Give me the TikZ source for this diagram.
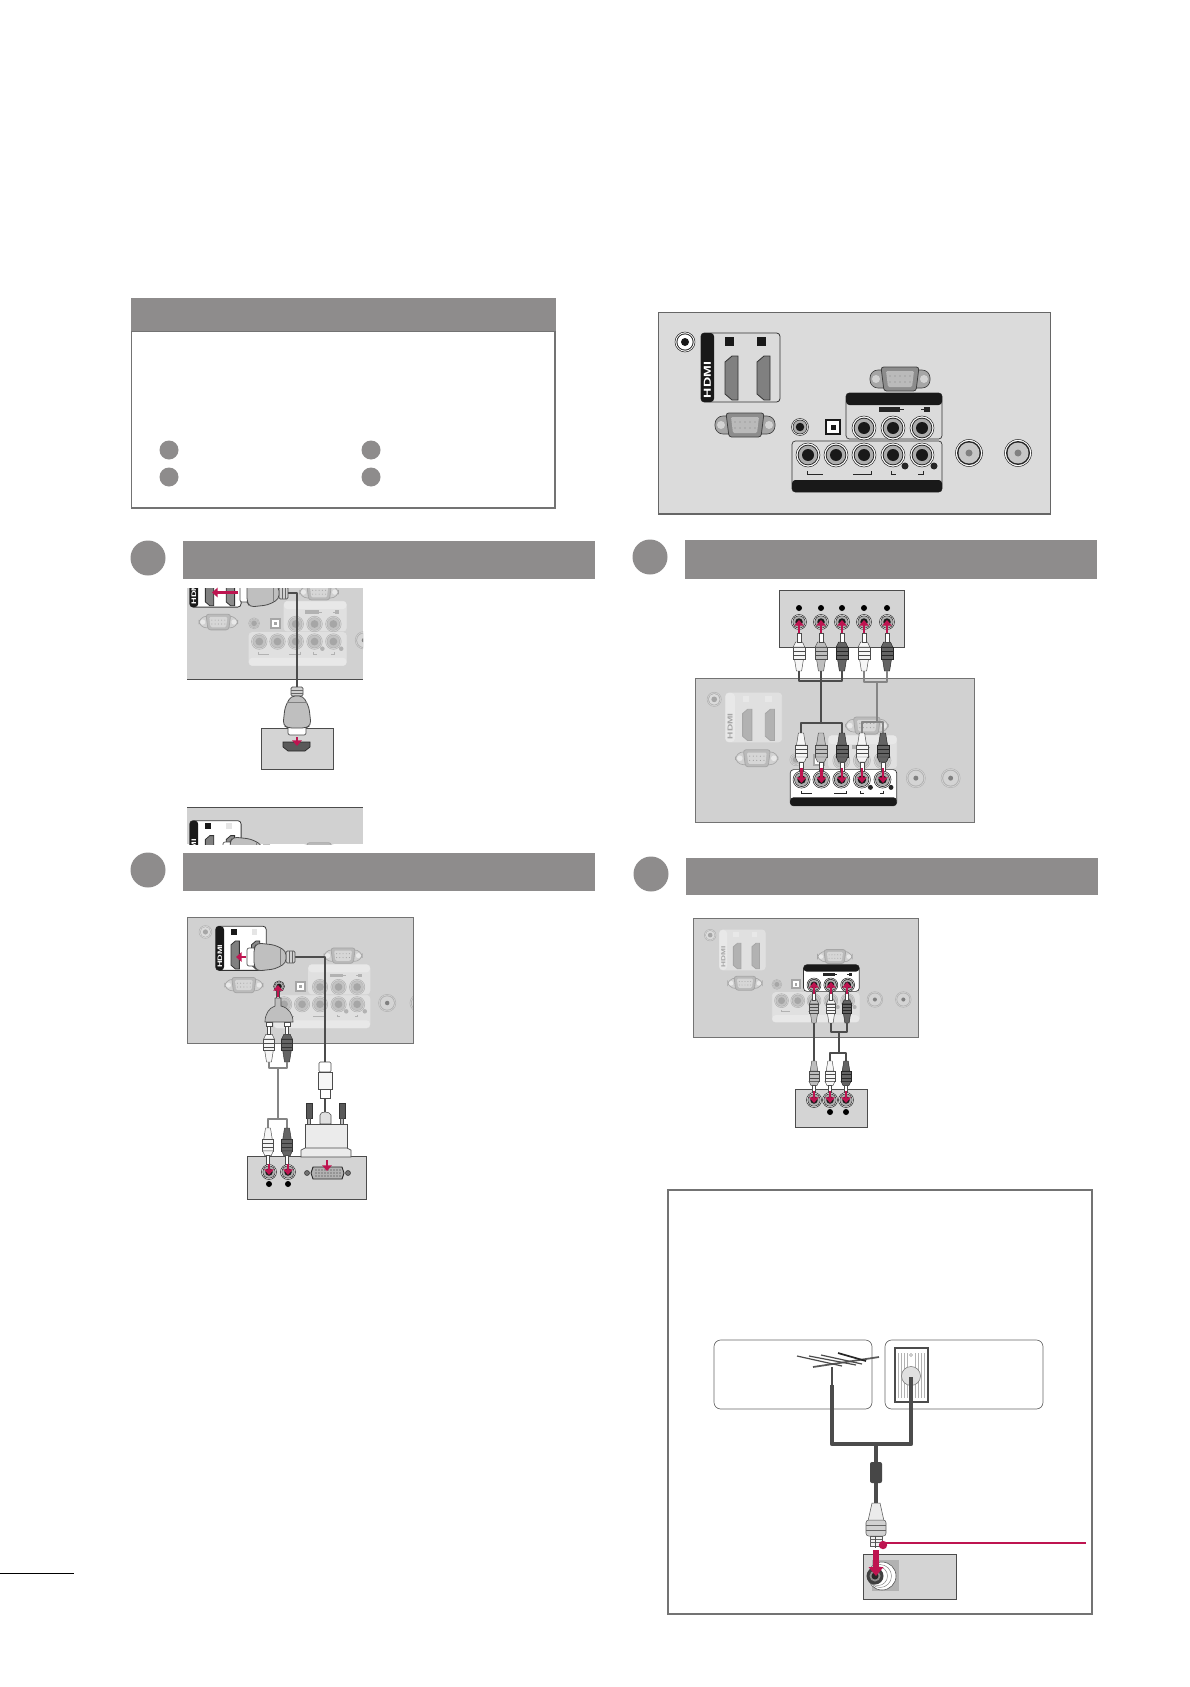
\documentclass[tikz,border=0pt]{standalone}
\usepackage{fontspec}
\setsansfont{Liberation Sans}
\usetikzlibrary{arrows.meta}
\definecolor{hdr}{HTML}{8E8C8C}
\definecolor{crim}{HTML}{BE1450}
\definecolor{rw}{HTML}{F6F6F6}
\definecolor{rg}{HTML}{BEBEBE}
\definecolor{rd}{HTML}{646464}
\tikzset{
 x=0.75pt,y=-0.75pt,
 redarr/.style={draw=crim,line width=2pt,-{Triangle[length=4.2pt,width=7pt]}},
 cabd/.style={draw=black!70,line width=1.9pt,line join=round},
 cabg/.style={draw=black!48,line width=1.9pt,line join=round},
 hbar/.style={fill=hdr},
}
% colour sets for the TV panel
\newcommand\fadedset{%
 \colorlet{jkRing}{black!14}\colorlet{jkLine}{black!30}\colorlet{jkMid}{black!24}\colorlet{jkCore}{black!35}%
 \colorlet{boxF}{black!12}\colorlet{boxL}{black!12}\colorlet{barC}{black!9}\colorlet{barT}{black!35}%
 \colorlet{prt}{black!30}\colorlet{prtL}{black!35}\colorlet{sqC}{black!9}%
 \colorlet{dsF}{black!27}\colorlet{dsE}{black!18}\colorlet{dsL}{black!35}\colorlet{labC}{black!30}%
}
\newcommand\strongset{%
 \colorlet{jkRing}{white}\colorlet{jkLine}{black!85}\colorlet{jkMid}{black!32}\colorlet{jkCore}{black!90}%
 \colorlet{boxF}{black!14}\colorlet{boxL}{black!80}\colorlet{barC}{black!90}\colorlet{barT}{white}%
 \colorlet{prt}{black!50}\colorlet{prtL}{black!80}\colorlet{sqC}{black!90}%
 \colorlet{dsF}{black!45}\colorlet{dsE}{black!35}\colorlet{dsL}{black!75}\colorlet{labC}{black!85}%
}
\newcommand\jk[3]{%
 \filldraw[fill=jkRing,draw=jkLine,line width=.4pt] (#1,#2) circle[radius=#3];
 \fill[jkLine] (#1,#2) circle[radius=.86*#3];
 \fill[jkMid] (#1,#2) circle[radius=.78*#3];
 \fill[jkCore] (#1,#2) circle[radius=.5*#3];
}
\newcommand\rfjk[2]{%
 \filldraw[fill=jkRing,draw=jkLine,line width=.4pt] (#1,#2) circle[radius=13.5];
 \fill[jkLine] (#1,#2) circle[radius=12];
 \fill[jkMid!70!white] (#1,#2) circle[radius=10.5];
 \fill[black!50] (#1,#2) circle[radius=3.5];
}
\newcommand\dsub[4]{% cx cy halfwidth halfheight
 \filldraw[fill=dsE,draw=dsL,line width=.5pt,rounded corners=6] (#1-#3,#2-#4+3) rectangle (#1+#3,#2+#4-3);
 \fill[dsE!50!white] (#1-#3+6,#2) circle[radius=4];
 \fill[dsE!50!white] (#1+#3-6,#2) circle[radius=4];
 \filldraw[fill=dsF,draw=dsL,line width=.6pt,rounded corners=2] (#1-#3+11,#2-#4) -- (#1+#3-11,#2-#4) -- (#1+#3-14,#2+#4) -- (#1-#3+14,#2+#4) -- cycle;
 \filldraw[fill=dsF!60!white,draw=none,rounded corners=1] (#1-#3+16,#2-#4+4) -- (#1+#3-16,#2-#4+4) -- (#1+#3-18,#2+#4-4) -- (#1-#3+18,#2+#4-4) -- cycle;
 \foreach \u in {-2,-1,0,1,2}{\fill[black!70,opacity=.5] (#1+\u*5,#2-3) circle[radius=.7];\fill[black!70,opacity=.5] (#1+\u*5,#2+3) circle[radius=.7];}
}
\newcommand\hport[1]{% x offset
 \filldraw[fill=prt,draw=prtL,line width=.6pt] (#1,362) -- (#1+7,356) -- (#1+13,356) -- (#1+13,400) -- (#1+7,400) -- (#1,394) -- cycle;
}
\newcommand\pJack{\filldraw[fill=jkRing,draw=jkLine,line width=.4pt] (685,342) circle[radius=10];
 \fill[jkLine] (685,342) circle[radius=8.6]; \fill[jkRing] (685,342) circle[radius=7.6]; \fill[jkCore] (685,342) circle[radius=4];}
\newcommand\pBoxHdmi{%
 \filldraw[fill=boxF,draw=boxL,line width=.6pt,rounded corners=2.5] (701,333) rectangle (780,402);
 \fill[barC,rounded corners=2.5] (701,333) -- (714,333) -- (714,402) -- (701,402) -- cycle;
 \node[rotate=90,transform shape,text=barT,inner sep=0pt,font=\sffamily\bfseries\fontsize{7.6}{7.6}\selectfont] at (707.5,380) {\scalebox{1.4}[1]{HDMI}};
}
\newcommand\pSq[1]{\fill[sqC] (#1-4.5,337) rectangle (#1+4.5,346);}
\newcommand\pHdmi{\pBoxHdmi\pSq{729.5}\pSq{761.5}\hport{725}\hport{757}}
\newcommand\pAudio{\jk{800}{427}{8.5}}
\newcommand\pOpt{\filldraw[fill=white,draw=jkCore,line width=1.5pt] (826,420) rectangle (840,434); \fill[jkCore] (830.5,424.5) rectangle (835.5,429.5);}
\newcommand\pUpper{%
 \filldraw[fill=boxF,draw=boxL,line width=.5pt,rounded corners=2.5] (846,393) rectangle (942,439);
 \fill[barC,rounded corners=2.5] (846,393) -- (942,393) -- (942,405) -- (846,405) -- cycle;
 \fill[labC] (879,407) rectangle (900,412); \fill[labC] (900,409) rectangle (904,410);
 \fill[labC] (924,407) rectangle (930,412); \fill[labC] (921,409) rectangle (924,410);
 \jk{864}{428}{12}\jk{893}{428}{12}\jk{922}{428}{12}
}
\newcommand\pLower{%
 \filldraw[fill=boxF,draw=boxL,line width=.5pt,rounded corners=2.5] (792,441) rectangle (942,492);
 \fill[barC,rounded corners=2.5] (792,480) -- (942,480) -- (942,492) -- (792,492) -- cycle;
 \jk{808}{455}{12}\jk{836}{455}{12}\jk{864}{455}{12}\jk{893}{455}{12}\jk{922}{455}{12}
 \fill[labC] (905,466) circle[radius=3.5]; \fill[labC] (934,466) circle[radius=3.5];
 \draw[labC,line width=.5pt] (807,471) |- (823,474);
 \draw[labC,line width=.5pt] (871,471) |- (853,474);
 \draw[labC,line width=.5pt] (891,471) |- (896,474);
 \draw[labC,line width=.5pt] (923,471) |- (918,474);
}
\newcommand\tvAll{\fadedset\pJack\pHdmi\dsub{900}{379}{30}{12}\dsub{745}{425}{30}{12}\pAudio\pOpt\pUpper\pLower\rfjk{969}{453}\rfjk{1018}{453}}
% panel: X Y scale x1 y1 x2 y2 bg overlay
\newcommand\tvpanel[9]{%
 \begin{scope}
  \clip (#4,#5) rectangle (#6,#7);
  \fill[#8] (#4,#5) rectangle (#6,#7);
  \begin{scope}[shift={(#1,#2)},scale=#3,shift={(-864,-428)}]
   \tvAll
   #9
  \end{scope}
 \end{scope}
}
\newcommand\whiteHdmi{\strongset
 \colorlet{boxF}{white}\pBoxHdmi\pSq{729.5}\colorlet{sqC}{black!10}\pSq{761.5}\hport{725}\colorlet{prt}{black!45}\hport{757}}
% plugs
\newcommand\rca[6][0]{% [rot] x y scale fill line ; tip at far end, pointing down
 \begin{scope}[shift={(#2,#3)},yscale=#4,xscale=#4,rotate=#1]
  \filldraw[fill=#5,draw=#6,line width=.35pt] (-2.6,0) -- (2.6,0) -- (4.5,12) -- (-4.5,12) -- cycle;
  \filldraw[fill=#5,draw=#6,line width=.35pt] (-5.8,12) rectangle (5.8,24);
  \draw[#6,line width=.25pt] (-5.8,16) -- (5.8,16) (-5.8,20) -- (5.8,20);
  \filldraw[fill=#5,draw=#6,line width=.35pt] (-5.8,24) -- (5.8,24) -- (3.4,29) -- (-3.4,29) -- cycle;
  \filldraw[fill=white,draw=black!70,line width=.35pt] (-1.8,29) rectangle (1.8,38);
 \end{scope}
}
\newcommand\hplug[4]{% x y rot scale
 \begin{scope}[shift={(#1,#2)},rotate=#3,scale=#4]
  \filldraw[fill=black!18,draw=black!70,line width=.5pt,rounded corners=1] (-6,0) rectangle (6,9);
  \draw[black!60,line width=.3pt] (-6,3) -- (6,3) (-6,6) -- (6,6);
  \filldraw[fill=white,draw=black!70,line width=.5pt,rounded corners=1.5] (-9,38) rectangle (9,48);
  \filldraw[fill=black!25,draw=black!70,line width=.6pt,rounded corners=3] (-6,9) -- (6,9) -- (12,20) -- (14,38) -- (9,41) -- (-9,41) -- (-14,38) -- (-12,20) -- cycle;
  \draw[black!50,line width=.3pt] (-10,15) -- (10,15);
 \end{scope}
}
\newcommand\ra[4]{\draw[redarr] (#1,#2) -- (#3,#4);}
\newcommand\sockbox[4]{\filldraw[fill=black!17,draw=black!70,line width=.7pt] (#1,#2) rectangle (#3,#4);}
\newcommand\sj[2]{\strongset\jk{#1}{#2}{7.5}}
\begin{document}
\begin{tikzpicture}
\useasboundingbox (0,0) rectangle (1189,1687);
\fill[white] (0,0) rectangle (1189,1687);

% ---- intro box
\draw[black!55,line width=1.3pt] (131.5,331) rectangle (555,508);
\fill[hbar] (131,298) rectangle (556,331);
\foreach \a/\b in {169/450,371/450,169/477,371/477}{\fill[hdr] (\a,\b) circle[radius=9.5];}

% ---- headers
\fill[hbar] (183,541) rectangle (595,579);
\fill[hdr] (148,558) circle[radius=17.5];
\fill[hbar] (183,853) rectangle (595,891);
\fill[hdr] (148,870) circle[radius=17.5];
\fill[hbar] (685,540) rectangle (1097,579);
\fill[hdr] (650,557) circle[radius=17.5];
\fill[hbar] (686,858) rectangle (1098,895);
\fill[hdr] (651,874) circle[radius=17.5];
\draw[black,line width=.7pt] (0,1573) -- (74,1573);

% ---- reference back panel
\filldraw[fill=black!14,draw=black!60,line width=.5pt] (658,312) rectangle (1050,514);
\draw[black!60,line width=1.2pt] (658,514) -- (1050,514);
\begin{scope}
 \strongset\pJack\pHdmi\dsub{900}{379}{30}{12}\dsub{745}{425}{30}{12}\pAudio\pOpt\pUpper\pLower\rfjk{969}{453}\rfjk{1018}{453}
\end{scope}

% ---- panel A upper crop (HDMI)
\tvpanel{295.7}{624}{.65}{187}{588}{363}{679}{black!18}{\whiteHdmi}
\draw[black!70,line width=.7pt] (187,679) -- (363,679);
\begin{scope}
 \clip (187,588) rectangle (363,679);
 \hplug{288}{593}{-90}{1}
\end{scope}
\ra{238}{592.5}{212}{592.5}
\draw[cabd] (288,593) -- (297,593) -- (297,688);
\sockbox{261}{728}{333}{769}
\hplug{297}{687}{0}{1}
\filldraw[fill=black!65,draw=black!85,line width=.5pt] (283,742) -- (310,742) -- (310,747) -- (305,751) -- (288,751) -- (283,747) -- cycle;
\ra{297}{737}{297}{746}

% ---- panel A lower crop
\tvpanel{295.7}{882.4}{.65}{187}{807}{363}{844}{black!18}{\whiteHdmi}
\draw[black!70,line width=.7pt] (187,807) -- (363,807);
\begin{scope}
 \clip (187,807) rectangle (363,844);
 \hplug{271}{851}{-90}{1}
\end{scope}

% ---- panel B (DVI)
\tvpanel{320}{987}{.64}{187}{917}{413}{1043}{black!18}{\whiteHdmi\strongset\pAudio}
\draw[black!55,line width=.7pt] (187,917) rectangle (413,1043);
\draw[cabd] (295,957) -- (325,957) -- (325,1063);
\hplug{295}{957}{-90}{1}
\ra{246}{957}{236}{957}
% y-adapter
\filldraw[fill=white,draw=black!70,line width=.35pt] (276.5,990) rectangle (279.5,1000);
\filldraw[fill=black!25,draw=black!70,line width=.5pt] (275,998) -- (281,998) -- (281,1006) .. controls (289,1008) and (293,1014) .. (293,1022) -- (265,1022) .. controls (265,1014) and (269,1008) .. (275,1006) -- cycle;
\ra{278}{997}{278}{985}
\filldraw[fill=white,draw=black!70,line width=.3pt] (266,1022) rectangle (272,1026);
\filldraw[fill=white,draw=black!70,line width=.3pt] (284,1022) rectangle (290,1026);
\rca[180]{269}{1062}{.95}{rw}{black!70}
\rca[180]{287}{1062}{.95}{rd}{black!80}
\draw[cabg] (269,1062) |- (287,1068) -- (287,1062);
\draw[cabg] (278,1068) -- (278,1119);
\draw[cabg] (268,1129) |- (287,1119) -- (287,1129);
% lower part
\sockbox{247}{1156}{366}{1199}
\rca{268}{1128}{.95}{rw}{black!70}
\rca{287}{1128}{.95}{rd}{black!80}
\sj{269}{1172}\sj{288}{1172}
\fill[black] (269,1184) circle[radius=3];
\fill[black] (288,1184) circle[radius=3];
\ra{269}{1164}{269}{1175}
\ra{288}{1164}{288}{1175}
% single ended HDMI-DVI barrel
\draw[cabd] (325,1095) -- (325,1112);
\filldraw[fill=white,draw=black!70,line width=.4pt,rounded corners=1] (319,1062) rectangle (331,1072);
\filldraw[fill=rw,draw=black!70,line width=.4pt] (318,1072) rectangle (332,1089);
\filldraw[fill=white,draw=black!70,line width=.4pt] (320,1089) rectangle (330,1098);
% DVI plug
\foreach \a in {309,342}{
 \filldraw[fill=black!65,draw=black!80,line width=.3pt] (\a-3,1103) rectangle (\a+3,1118);
 \filldraw[fill=black!25,draw=black!70,line width=.3pt] (\a-1.5,1118) rectangle (\a+1.5,1124);
}
\filldraw[fill=black!12,draw=black!70,line width=.4pt] (320,1124) -- (320,1115) .. controls (320,1111) and (330,1111) .. (331,1115) -- (331,1124) -- cycle;
\filldraw[fill=black!8,draw=black!70,line width=.5pt] (305,1124) -- (347,1124) -- (347,1148) -- (305,1148) -- cycle;
\filldraw[fill=black!8,draw=black!70,line width=.5pt] (305,1148) -- (347,1148) -- (351,1150) -- (351,1157) -- (301,1157) -- (301,1150) -- cycle;
% DVI port
\filldraw[fill=black!55,draw=black!80,line width=.4pt] (307,1173) circle[radius=2.5];
\filldraw[fill=black!55,draw=black!80,line width=.4pt] (348,1173) circle[radius=2.5];
\filldraw[fill=black!30,draw=black!85,line width=.7pt] (313,1167) -- (342,1167) -- (344,1173) -- (342,1179) -- (313,1179) -- (311,1173) -- cycle;
\foreach \u in {0,...,8}{\fill[black!80] (316+\u*3,1170) circle[radius=.6];\fill[black!80] (316+\u*3,1173) circle[radius=.6];\fill[black!80] (316+\u*3,1176) circle[radius=.6];}
\ra{327}{1160}{327}{1171}

% ---- panel C (AV)
\sockbox{779}{590}{904}{647}
\tvpanel{841.3}{760.4}{.71}{695}{678}{974}{822}{black!18}{\strongset\colorlet{boxF}{white}\pLower}
\draw[black!55,line width=.7pt] (695,678) rectangle (974,822);
\foreach \a in {799,821,842,864,887}{
 \fill[black] (\a,608) circle[radius=3];
 \sj{\a}{622}
 \ra{\a}{636}{\a}{620}
}
\foreach \a/\c/\l in {799/rw/70,821/rg/70,842/rd/85,864/rw/70,887/rd/85}{\rca[180]{\a}{671}{1}{\c}{black!\l}}
\draw[cabd] (799,671) |- (842,681) -- (842,671);
\draw[cabd] (821,671) -- (821,723);
\draw[cabd] (801,733) |- (842,723) -- (842,733);
\draw[cabg] (864,671) |- (887,682) -- (887,671);
\draw[cabg] (877,682) -- (877,722);
\draw[cabg] (862,733) |- (883,722) -- (883,733);
\foreach \a/\c/\l in {801/rw/70,821/rg/70,842/rd/85,862/rw/70,883/rd/85}{\rca{\a}{733}{1}{\c}{black!\l}}
\foreach \a in {801.5,821.5,842,862,883}{\ra{\a}{768}{\a}{783}}

% ---- panel D (component/audio)
\tvpanel{814}{985}{.58}{693}{918}{918}{1037}{black!18}{\strongset\colorlet{boxF}{white}\pUpper}
\draw[black!55,line width=.7pt] (693,918) rectangle (918,1037);
\rca[180]{814}{1023}{.8}{rg}{black!70}
\rca[180]{831}{1023}{.8}{rw}{black!70}
\rca[180]{847}{1023}{.8}{rd}{black!85}
\foreach \a in {814,831,847}{\ra{\a}{994}{\a}{982}}
\draw[cabd] (814,1023) -- (814,1062);
\draw[cabd] (831,1023) |- (847,1032) -- (847,1023);
\draw[cabd] (839,1032) -- (839,1053);
\draw[cabd] (830,1062) |- (846,1053) -- (846,1062);
\sockbox{795}{1089}{867}{1127}
\rca{814}{1061}{.85}{rg}{black!70}
\rca{830}{1061}{.85}{rw}{black!70}
\rca{846}{1061}{.85}{rd}{black!85}
\foreach \a in {814,830,846}{\sj{\a}{1100}\ra{\a}{1091}{\a}{1103}}
\fill[black] (830,1112) circle[radius=3];
\fill[black] (846,1112) circle[radius=3];

% ---- antenna box
\draw[black!55,line width=1.3pt] (668,1190) rectangle (1092,1614);
\draw[black!60,line width=.5pt,rounded corners=5] (714,1340) rectangle (872,1409);
\draw[black!60,line width=.5pt,rounded corners=5] (885,1340) rectangle (1043,1409);
% antenna
\draw[black!65,line width=1.3pt] (813,1367) -- (879,1357);
\draw[black!70,line width=.9pt] (797,1356) -- (842,1366) (809,1356) -- (856,1365) (821,1355) -- (862,1364);
\draw[black!85,line width=1.3pt] (838,1353) -- (866,1361);
\draw[black!70,line width=.9pt] (832,1367) -- (832,1386);
% wall plate
\filldraw[fill=white,draw=black!70,line width=1.7pt] (895,1348) rectangle (928,1402);
\foreach \a in {898,901,904,907,915,918,921,924}{\draw[black!30,line width=.25pt] (\a,1353) -- (\a,1398);}
\filldraw[fill=black!12,draw=black!55,line width=.4pt] (911,1376) circle[radius=9.5];
\draw[black!40,line width=.4pt] (911,1355) circle[radius=1.5];
% cables
\draw[black!70,line width=3.6pt,line join=round] (832,1385) -- (832,1444) -- (911,1444) -- (911,1377);
\draw[black!70,line width=3.6pt] (876,1444) -- (876,1505);
\fill[black!72,rounded corners=1.5] (870,1462) rectangle (882,1483);
% F connector
\filldraw[fill=black!8,draw=black!65,line width=.4pt] (872,1503) -- (880,1503) -- (884,1521) -- (868,1521) -- cycle;
\filldraw[fill=black!18,draw=black!65,line width=.4pt,rounded corners=2] (866,1520) rectangle (886,1536);
\draw[black!60,line width=.3pt] (866,1525) -- (886,1525) (866,1530) -- (886,1530);
\filldraw[fill=black!5,draw=black!65,line width=.4pt] (870,1536) rectangle (882,1546);
\draw[black!60,line width=.3pt] (870,1539) -- (882,1539) (870,1542) -- (882,1542);
\draw[black!70,line width=.8pt] (875.5,1536) -- (875.5,1548);
% red callout
\fill[crim] (883,1545) circle[radius=4.2];
\draw[crim,line width=1.2pt] (883,1543) -- (1086,1543);
% socket
\sockbox{863}{1554}{956}{1599}
\fill[black!30] (872,1560) rectangle (899,1591);
\filldraw[fill=white,draw=black!70,line width=.4pt] (882,1576) circle[radius=14];
\draw[black!55,line width=.3pt] (880,1576) circle[radius=11.5] (878,1576) circle[radius=9.5];
\fill[black!75] (875,1576) circle[radius=8.5];
\fill[black!45] (875,1576) circle[radius=5.5];
\fill[black!85] (875,1576) circle[radius=3.5];
\draw[crim,line width=4pt] (876,1550) -- (876,1568);
\fill[crim] (868.5,1567) -- (883.5,1567) -- (876,1576) -- cycle;
\end{tikzpicture}
\end{document}
